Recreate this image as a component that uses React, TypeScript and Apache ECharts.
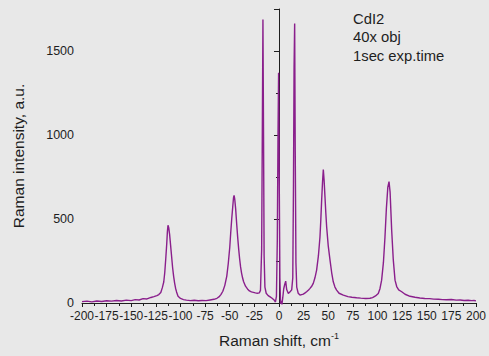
import React, { useEffect, useRef } from "react";
import * as echarts from "echarts";

const shiftX: number[] = [
  -200, -195, -190, -185, -180, -175, -170, -165, -160, -155, -150, -146, -142, -138, -134, -130, -127, -124, -122, -120,
  -118.5, -117, -116, -115, -114, -113.3, -112.7, -112, -111, -110, -109, -108, -107, -106, -105, -104, -102.5, -100,
  -97, -94, -90, -86, -82, -78, -74, -70, -66, -63, -61, -59, -57, -55, -53, -51.5, -50, -49, -48, -47, -46.2, -45.6,
  -45, -44, -43, -42, -41, -40, -39, -38, -37, -36, -34, -32, -30, -28, -26, -24, -22, -20, -18.8, -17.6, -16.9, -16.3,
  -15.7, -15.1, -14.3, -13, -11, -9, -7, -5, -3.6, -2.6, -1.7, -1, -0.4, 0.2, 0.9, 1.6, 2.3, 3.0, 3.8, 4.8, 5.8, 6.8,
  7.8, 9.5, 11, 12.9, 14, 14.7, 15.3, 15.9, 16.5, 17.2, 18, 19.5, 21.3, 23, 24.7, 26.5, 28, 30, 31.5, 33, 34.8, 36.5,
  38.2, 40, 41.6, 42.5, 43.3, 44.2, 45, 45.8, 46.7, 47.5, 48.4, 50, 51.8, 53.5, 55.1, 56.8, 58.5, 61, 65.3, 70, 74, 78.8,
  83, 88, 92.4, 95, 98, 100.8, 102.5, 104.2, 106, 107.6, 109, 110.5, 111.7, 112.8, 114.4, 116, 117.8, 119.5, 121.5,
  124.6, 128, 133, 138.1, 143, 148, 153, 157, 161.8, 166, 170, 175, 180, 184, 188, 192, 195.6, 198, 200,
];

const intensity: number[] = [
  8, 11, 7, 12, 9, 13, 11, 15, 12, 17, 14, 20, 18, 26, 24, 33, 38, 44, 50, 62,
  90, 125, 180, 260, 350, 425, 463, 450, 405, 340, 275, 210, 160, 120, 88, 66, 40, 27,
  20, 17, 14, 16, 13, 15, 14, 18, 22, 28, 36, 50, 70, 105, 160, 235, 330, 420, 500, 570, 625, 641,
  622, 560, 475, 395, 325, 265, 215, 178, 150, 128, 100, 84, 72, 66, 63, 60, 58, 60, 75, 320, 1050, 1688,
  1000, 280, 95, 58, 44, 36, 28, 18, 6, 40, 380, 1000, 1370, 780, 150, -5, 12, -8, 30, 85, 110, 130,
  80, 57, 65, 78, 150, 700, 1400, 1663, 900, 240, 95, 58, 47, 50, 53, 60, 67, 78, 87, 98, 117, 150,
  196, 280, 393, 500, 611, 720, 795, 730, 630, 540, 452, 340, 255, 180, 126, 95, 77, 58, 47, 38, 34, 31,
  29, 27, 28, 32, 42, 57, 85, 136, 240, 393, 560, 690, 723, 660, 433, 260, 136, 98, 78,
  67, 52, 40, 34, 30, 27, 26, 23, 22, 20, 19, 21, 17, 18, 15, 16, 14, 15, 13,
];

const xTicks = { min: -200, max: 200, step: 25 };
const yTicks = { min: 0, max: 1750, step: 500 };
const noteLines: string[] = ["CdI2", "40x obj", "1sec exp.time"];

const FONT = "'Liberation Sans', Arial, sans-serif";
const INK = "#1e1e1e";

export default function App() {
  const ref = useRef<HTMLDivElement>(null);
  useEffect(() => {
    if (!ref.current) return;
    const chart = echarts.init(ref.current, undefined, { renderer: "svg" });
    const data = shiftX.map((x, i) => [x, intensity[i]]);
    chart.setOption({
      animation: false,
      backgroundColor: "#e8e8e8",
      textStyle: { fontFamily: FONT },
      grid: { left: 82, right: 13, top: 9, bottom: 53 },
      xAxis: {
        type: "value",
        min: xTicks.min,
        max: xTicks.max,
        interval: xTicks.step,
        name: "Raman shift, cm{sup|-1}",
        nameLocation: "middle",
        nameGap: 28,
        nameTextStyle: {
          fontFamily: FONT,
          fontSize: 15.5,
          color: INK,
          rich: {
            sup: { fontSize: 9, padding: [0, 0, 10, 0], color: INK, fontFamily: FONT },
          },
        },
        axisLine: { show: true, onZero: false, lineStyle: { color: INK, width: 1 } },
        axisTick: { show: true, length: 4, lineStyle: { color: INK } },
        minorTick: { show: true, splitNumber: 2, length: 3, lineStyle: { color: INK } },
        splitLine: { show: false },
        axisLabel: {
          fontFamily: FONT,
          fontSize: 12,
          color: INK,
          margin: 7,
          showMinLabel: true,
          showMaxLabel: true,
          hideOverlap: false,
          interval: 0,
        },
      },
      yAxis: {
        type: "value",
        min: yTicks.min,
        max: yTicks.max,
        interval: yTicks.step,
        name: "Raman intensity, a.u.",
        nameLocation: "middle",
        nameGap: 56,
        nameTextStyle: { fontFamily: FONT, fontSize: 15.5, color: INK },
        axisLine: { show: true, lineStyle: { color: INK, width: 1 } },
        axisTick: { show: true, length: 5, lineStyle: { color: INK } },
        minorTick: { show: true, splitNumber: 2, length: 3, lineStyle: { color: INK } },
        splitLine: { show: false },
        axisLabel: {
          fontFamily: FONT,
          fontSize: 12.5,
          color: INK,
          margin: 8,
          showMaxLabel: false,
          formatter: (v: number) => (v > 1500 ? "" : String(v)),
        },
      },
      series: [
        {
          type: "line",
          data,
          showSymbol: false,
          clip: false,
          lineStyle: { color: "#8a1f8c", width: 1.4 },
        },
      ],
      graphic: noteLines.map((t, i) => ({
        type: "text",
        left: 353,
        top: 11 + i * 18.5,
        style: { text: t, fontFamily: FONT, fontSize: 14.8, fill: INK },
      })),
    });
    return () => chart.dispose();
  }, []);
  return (
    <div
      ref={ref}
      style={{ position: "fixed", left: 0, top: 0, width: 489, height: 356 }}
    />
  );
}
